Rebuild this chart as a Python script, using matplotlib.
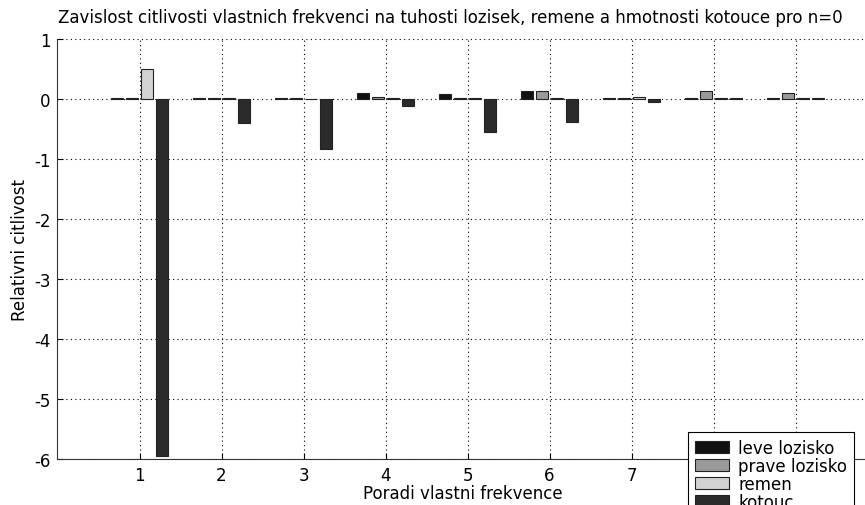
import matplotlib
matplotlib.use('Agg')
import matplotlib.pyplot as plt
import numpy as np

plt.rcParams['font.family'] = ['DejaVu Sans']
plt.rcParams['axes.unicode_minus'] = False

# data
modes = [1, 2, 3, 4, 5, 6, 7, 8, 9]
leve_lozisko = [0.01, 0.02, 0.015, 0.095, 0.08, 0.13, 0.01, 0.01, 0.015]
prave_lozisko = [0.01, 0.02, 0.015, 0.03, 0.01, 0.13, 0.01, 0.13, 0.10]
remen = [0.50, 0.01, 0.005, 0.01, 0.01, 0.01, 0.03, 0.01, 0.015]
kotouc = [-5.95, -0.40, -0.84, -0.11, -0.55, -0.38, -0.045, 0.01, 0.01]

series = [leve_lozisko, prave_lozisko, remen, kotouc]
labels = ['leve lozisko', 'prave lozisko', 'remen', 'kotouc']
colors = ['#111111', '#9a9a9a', '#d2d2d2', '#2b2b2b']

W, H = 865, 506
fig = plt.figure(figsize=(W / 100, H / 100), dpi=100)
# axes box in pixels: left 57.5, top 40, bottom 460, right runs off the image
ax = fig.add_axes([57.5 / W, 1 - 460 / H, (W - 57.5) / W, 420 / H])

x = np.array(modes, dtype=float)
offsets = [-0.27, -0.09, 0.09, 0.27]
bw = 0.145
handles = []
for s, off, c, lab in zip(series, offsets, colors, labels):
    h = ax.bar(x + off, s, width=bw, color=c, edgecolor='#222222', linewidth=0.8, label=lab, zorder=3)
    handles.append(h)

ax.set_xlim(0, (W - 57.5) / 82.0)
ax.set_ylim(-6, 1)
ax.set_xticks(modes)
ax.set_yticks([1, 0, -1, -2, -3, -4, -5, -6])
ax.tick_params(direction='in', length=4, width=0.8, labelsize=12, pad=5)
ax.grid(True, color='black', linestyle=(0, (1, 3)), linewidth=0.8, zorder=0)
ax.spines['top'].set_visible(False)
ax.spines['right'].set_visible(False)
ax.spines['left'].set_color('#333333')
ax.spines['bottom'].set_color('#333333')

fig.text(58 / W, 1 - 18 / H, 'Zavislost citlivosti vlastnich frekvenci na tuhosti lozisek, remene a hmotnosti kotouce pro n=0',
         ha='left', va='center', fontsize=12)
fig.text(463 / W, 1 - 494 / H, 'Poradi vlastni frekvence', ha='center', va='center', fontsize=12)
fig.text(20 / W, 1 - 250 / H, 'Relativni citlivost', ha='center', va='center', rotation=90, fontsize=12)

leg = ax.legend(handles=handles, loc='upper left', bbox_to_anchor=(688 / W, 1 - 433 / H),
                bbox_transform=fig.transFigure, fontsize=12, frameon=True, fancybox=False,
                framealpha=1, edgecolor='black', handlelength=2.05, handleheight=0.7,
                handletextpad=0.55, labelspacing=0.0, borderpad=0.4, borderaxespad=0)
leg.get_frame().set_linewidth(0.8)
leg.set_zorder(10)

fig.savefig('out.png', dpi=100)
